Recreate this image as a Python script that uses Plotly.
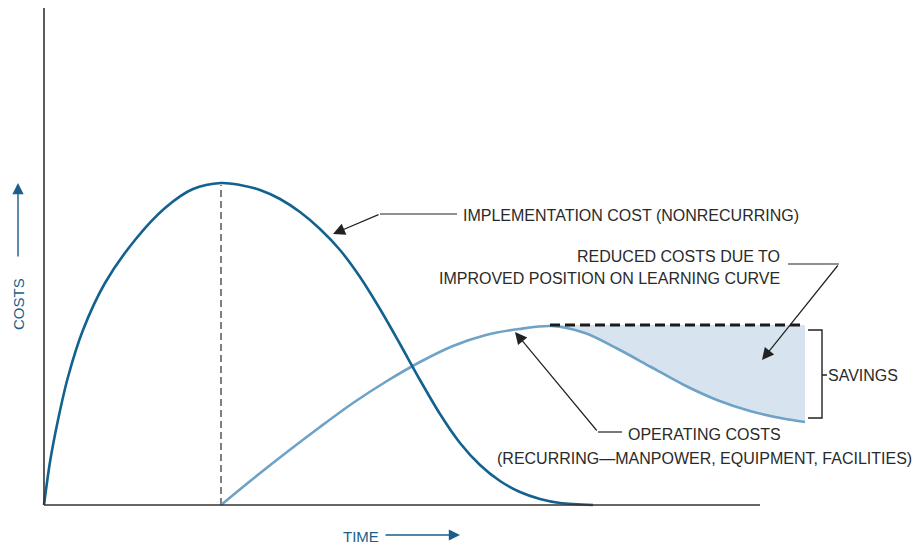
import plotly.graph_objects as go

# ---- data (time units from left axis, cost units up from baseline) ----
impl_time = [0, 6, 14, 24, 39, 61, 91, 121, 149, 177, 196, 216, 236, 256, 276, 296, 316, 336, 356,
             376, 396, 416, 436, 456, 476, 496, 516, 549]
impl_cost = [0, 43, 85, 128, 175, 222, 265, 297, 316, 322, 320, 315, 306, 293, 276, 255, 228, 196, 161,
             125, 91, 62, 40, 24, 13, 6, 2, 0]

oper_time = [177, 210, 243, 276, 309, 343, 376, 409, 442, 475, 508, 541, 574, 607, 640, 673, 706, 739, 761]
oper_cost = [0, 27, 53, 78, 102, 124, 143, 159, 170, 176, 179, 172, 156, 138, 120, 105, 94, 86.5, 83]

baseline_time = [506, 761]
baseline_cost = [180, 180]

peak_time = 177
peak_cost = 320

# ---- style ----
DARK = "#12628f"
LIGHT = "#6fa2c7"
FILL = "#d7e4ef"
TXT = "#2a2a2a"
LBL = "#1b5e89"
FONT = "Liberation Sans, Arial, sans-serif"

# pixel helpers (figure 918x545, time 0 at px 44, cost 0 at px 505)
def X(px):
    return px - 44

def Y(py):
    return 505 - py

fig = go.Figure()

# savings fill
seg_t = [t for t in oper_time if t >= baseline_time[0]]
seg_c = [c for t, c in zip(oper_time, oper_cost) if t >= baseline_time[0]]
fig.add_trace(go.Scatter(x=baseline_time, y=baseline_cost, mode="lines",
                         line=dict(width=0, color=FILL), hoverinfo="skip", showlegend=False))
fig.add_trace(go.Scatter(x=seg_t, y=seg_c, mode="lines", line=dict(width=0, color=FILL, shape="spline"),
                         fill="tonexty", fillcolor=FILL, hoverinfo="skip", showlegend=False))

# vertical dashed at implementation peak
fig.add_trace(go.Scatter(x=[peak_time, peak_time], y=[0, peak_cost], mode="lines",
                         line=dict(color="#555555", width=1.5, dash="7px,4px"),
                         hoverinfo="skip", showlegend=False))

# curves
fig.add_trace(go.Scatter(x=oper_time, y=oper_cost, mode="lines",
                         line=dict(color=LIGHT, width=2.6, shape="spline", smoothing=0.9),
                         showlegend=False))
fig.add_trace(go.Scatter(x=impl_time, y=impl_cost, mode="lines",
                         line=dict(color=DARK, width=2.6, shape="spline", smoothing=0.9),
                         showlegend=False))

# dashed baseline (previous operating level)
fig.add_trace(go.Scatter(x=baseline_time, y=baseline_cost, mode="lines",
                         line=dict(color="#1a1a1a", width=2.8, dash="10px,5px"),
                         hoverinfo="skip", showlegend=False))

shapes = []
# axes
shapes.append(dict(type="line", x0=X(44), y0=Y(505), x1=X(44), y1=Y(8),
                   line=dict(color="#333333", width=1.6)))
shapes.append(dict(type="line", x0=X(44), y0=Y(505), x1=X(760), y1=Y(505),
                   line=dict(color="#333333", width=1.6)))
# leader elbows
shapes.append(dict(type="line", x0=X(457), y0=Y(214), x1=X(380), y1=Y(214),
                   line=dict(color="#222222", width=1.2)))
shapes.append(dict(type="line", x0=X(788), y0=Y(264), x1=X(839), y1=Y(264),
                   line=dict(color="#222222", width=1.2)))
shapes.append(dict(type="line", x0=X(598), y0=Y(432), x1=X(622), y1=Y(432),
                   line=dict(color="#222222", width=1.2)))
# savings bracket
shapes.append(dict(type="path",
                   path=f"M {X(808)},{Y(330)} L {X(822)},{Y(330)} L {X(822)},{Y(418)} L {X(808)},{Y(418)} "
                        f"M {X(822)},{Y(375)} L {X(827)},{Y(375)}",
                   line=dict(color="#222222", width=1.4)))

annotations = []
def arrow(tip, tail, color="#222222", width=1.2, size=2.0):
    annotations.append(dict(x=X(tip[0]), y=Y(tip[1]), ax=X(tail[0]), ay=Y(tail[1]),
                            xref="x", yref="y", axref="x", ayref="y", text="",
                            showarrow=True, arrowhead=2, arrowsize=size, arrowwidth=width,
                            arrowcolor=color, standoff=0))

arrow((333, 234), (380, 214))
arrow((762, 360), (839, 264))
arrow((515, 332), (598, 432))
# axis label arrows
arrow((460, 535), (384, 535), color=LBL, width=1.4, size=1.6)
arrow((18, 183), (18, 258), color=LBL, width=1.4, size=1.6)

def text(t, px, py, anchor="left", color=TXT, size=16, angle=0):
    annotations.append(dict(x=X(px), y=Y(py), xref="x", yref="y", text=t, showarrow=False,
                            xanchor=anchor, yanchor="middle", textangle=angle,
                            font=dict(family=FONT, size=size, color=color)))

text("IMPLEMENTATION COST (NONRECURRING)", 461, 215)
text("REDUCED COSTS DUE TO", 782, 256, anchor="right")
text("IMPROVED POSITION ON LEARNING CURVE", 782, 278, anchor="right")
text("SAVINGS", 826, 375)
text("OPERATING COSTS", 626, 434)
text("(RECURRING\u2014MANPOWER, EQUIPMENT, FACILITIES)", 495, 458)
text("TIME", 341, 536, color=LBL, size=15)
annotations.append(dict(x=X(18), y=Y(304), xref="x", yref="y", text="COSTS", showarrow=False,
                        xanchor="center", yanchor="middle", textangle=-90,
                        font=dict(family=FONT, size=15, color=LBL)))

fig.update_layout(
    width=918, height=545,
    margin=dict(l=0, r=0, t=0, b=0),
    paper_bgcolor="white", plot_bgcolor="white",
    xaxis=dict(range=[X(0), X(918)], visible=False, fixedrange=True),
    yaxis=dict(range=[Y(545), Y(0)], visible=False, fixedrange=True),
    shapes=shapes, annotations=annotations,
    showlegend=False,
)

fig.write_html("out.html", config={"displayModeBar": False},
               post_script="document.body.style.margin='0';document.body.style.overflow='hidden';")
